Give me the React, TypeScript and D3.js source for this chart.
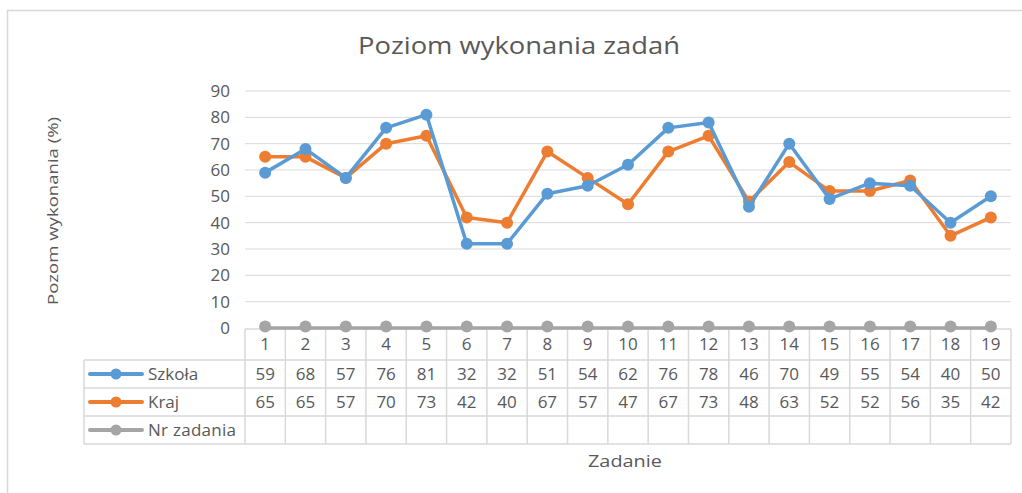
import React from "react";
import * as d3 from "d3";

const categories = ["1","2","3","4","5","6","7","8","9","10","11","12","13","14","15","16","17","18","19"];
const szkola = [59,68,57,76,81,32,32,51,54,62,76,78,46,70,49,55,54,40,50];
const kraj = [65,65,57,70,73,42,40,67,57,47,67,73,48,63,52,52,56,35,42];
const nrZadania = [0,0,0,0,0,0,0,0,0,0,0,0,0,0,0,0,0,0,0];
const yTicks = [0,10,20,30,40,50,60,70,80,90];

const seriesList = [
  { name: "Szkoła", values: szkola, color: "#5B9BD5", showValues: true },
  { name: "Kraj", values: kraj, color: "#ED7D31", showValues: true },
  { name: "Nr zadania", values: nrZadania, color: "#A5A5A5", showValues: false },
];

const FONT = "'Open Sans', 'Noto Sans', sans-serif";
const TEXT = "#595959";
const GRID = "#D9D9D9";

export default function App() {
  const W = 1022, H = 493;
  const x = d3.scaleBand<string>().domain(categories).range([245, 1011]);
  const y = d3.scaleLinear().domain([0, 90]).range([328, 91]);
  const line = d3.line<number>()
    .x((_, i) => (x(categories[i]) as number) + x.bandwidth() / 2)
    .y((d) => y(d));

  const rowTops = [329, 360, 388, 416, 444];
  const legendLeft = 84;
  const tableLeft = 245;
  const tableRight = 1011;

  return (
    <svg width={W} height={H} style={{ position: "absolute", left: 0, top: 0, background: "#fff" }}>
      <rect x={7.5} y={10.5} width={1030} height={500} fill="#fff" stroke="#D9D9D9" strokeWidth={1.5} />
      <text x={519} y={54} textAnchor="middle" fontFamily={FONT} fontSize={24} fill={TEXT} textLength={322} lengthAdjust="spacingAndGlyphs">
        Poziom wykonania zadań
      </text>
      {yTicks.filter((t) => t > 0).map((t) => (
        <line key={t} x1={tableLeft} x2={tableRight} y1={y(t)} y2={y(t)} stroke={GRID} strokeWidth={1} />
      ))}
      {yTicks.map((t) => (
        <text key={"l" + t} x={230} y={y(t) + 6} textAnchor="end" fontFamily={FONT} fontSize={17} fill={TEXT}>
          {t}
        </text>
      ))}
      <text transform="translate(58,211) rotate(-90)" textAnchor="middle" fontFamily={FONT} fontSize={15} fill={TEXT} textLength={188} lengthAdjust="spacingAndGlyphs">
        Pozom wykonania (%)
      </text>
      {rowTops.map((ry, i) => (
        <line key={"h" + i} x1={i === 0 ? tableLeft : legendLeft} x2={tableRight} y1={ry} y2={ry} stroke={GRID} strokeWidth={1.5} />
      ))}
      <line x1={legendLeft} x2={legendLeft} y1={rowTops[1]} y2={rowTops[4]} stroke={GRID} strokeWidth={1.5} />
      {categories.map((c) => (
        <line key={"v" + c} x1={x(c) as number} x2={x(c) as number} y1={rowTops[0]} y2={rowTops[4]} stroke={GRID} strokeWidth={1.5} />
      ))}
      <line x1={tableRight} x2={tableRight} y1={rowTops[0]} y2={rowTops[4]} stroke={GRID} strokeWidth={1.5} />
      {categories.map((c) => (
        <text key={"c" + c} x={(x(c) as number) + x.bandwidth() / 2} y={350} textAnchor="middle" fontFamily={FONT} fontSize={17} fill={TEXT}>
          {c}
        </text>
      ))}
      {seriesList.map((s, si) => {
        const top = rowTops[si + 1];
        const bot = rowTops[si + 2];
        const cy = (top + bot) / 2;
        return (
          <g key={"row" + s.name}>
            <line x1={90} x2={142} y1={cy} y2={cy} stroke={s.color} strokeWidth={4} strokeLinecap="round" />
            <circle cx={116} cy={cy} r={5.5} fill={s.color} />
            <text x={148} y={cy + 6} fontFamily={FONT} fontSize={17} fill={TEXT} textLength={s.name === "Nr zadania" ? 88 : undefined}>{s.name}</text>
            {s.showValues && s.values.map((v, i) => (
              <text key={i} x={(x(categories[i]) as number) + x.bandwidth() / 2} y={cy + 6} textAnchor="middle" fontFamily={FONT} fontSize={17} fill={TEXT}>
                {v}
              </text>
            ))}
          </g>
        );
      })}
      {[...seriesList].reverse().map((s) => (
        <g key={"s" + s.name}>
          <path d={line(s.values) || ""} fill="none" stroke={s.color} strokeWidth={3.5} strokeLinejoin="round" />
          {s.values.map((v, i) => (
            <circle key={i} cx={(x(categories[i]) as number) + x.bandwidth() / 2} cy={s.name === "Nr zadania" ? y(v) - 1.5 : y(v)} r={6} fill={s.color} />
          ))}
        </g>
      ))}
      <text x={625} y={467} textAnchor="middle" fontFamily={FONT} fontSize={17} fill={TEXT} textLength={74} lengthAdjust="spacingAndGlyphs">Zadanie</text>
    </svg>
  );
}
